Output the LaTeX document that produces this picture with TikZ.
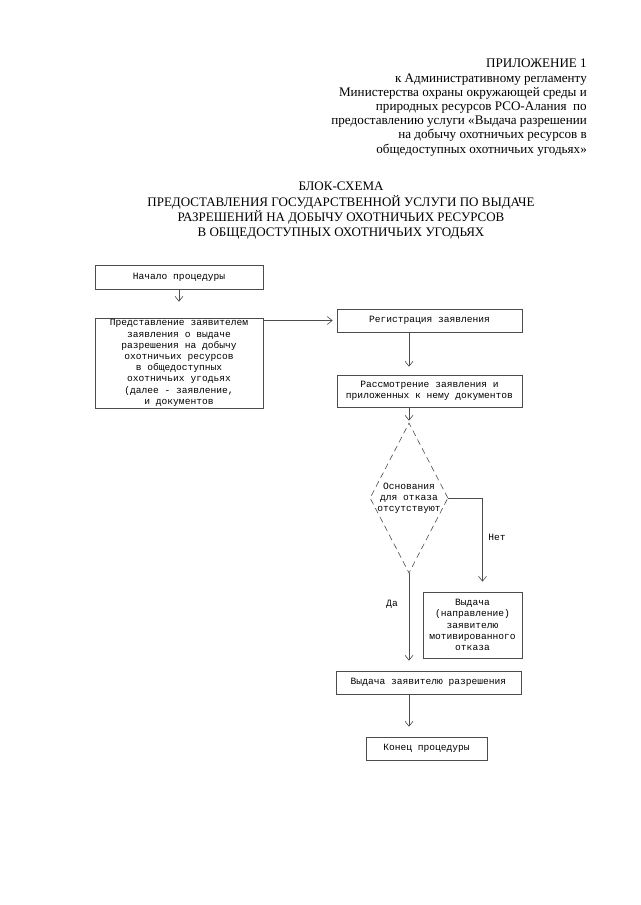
\documentclass[tikz,border=0pt]{standalone}
\usepackage{fontspec}
\setmainfont{Liberation Serif}
\setmonofont{Liberation Mono}
\usetikzlibrary{shapes.geometric,arrows.meta}

\begin{document}
\begin{tikzpicture}[x=1pt,y=-1pt,>={Straight Barb[length=5pt,width=8pt]},
  box/.style={draw=black!70,line width=0.6pt,inner sep=0pt,align=center,
    font=\ttfamily\fontsize{9.6}{11.2}\selectfont},
  txt/.style={inner sep=0pt,align=center,font=\ttfamily\fontsize{9.6}{11.2}\selectfont},
  line/.style={draw=black!70,line width=0.6pt}]
  \useasboundingbox[fill=white] (0,0) rectangle (640,905);
  \node[anchor=north east,align=right,inner sep=0pt,font=\fontsize{13.1}{14.2}\selectfont] (head) at (587,59)
    {ПРИЛОЖЕНИЕ 1\\к Административному регламенту\\Министерства охраны окружающей среды и\\
     природных ресурсов РСО-Алания~~по\\предоставлению услуги «Выдача разрешении\\
     на добычу охотничьих ресурсов в\\общедоступных охотничьих угодьях»};
  \node[anchor=north,align=center,inner sep=0pt,font=\fontsize{13}{15.3}\selectfont] (title) at (341,182)
    {БЛОК-СХЕМА\\ПРЕДОСТАВЛЕНИЯ ГОСУДАРСТВЕННОЙ УСЛУГИ ПО ВЫДАЧЕ\\
     РАЗРЕШЕНИЙ НА ДОБЫЧУ ОХОТНИЧЬИХ РЕСУРСОВ\\В ОБЩЕДОСТУПНЫХ ОХОТНИЧЬИХ УГОДЬЯХ};
  \foreach \n/\x/\y/\w/\h/\t in {start/179/277/168/24/{Начало процедуры},
    appl/179/363/168/90/{Представление заявителем\\заявления о выдаче\\разрешения на добычу\\охотничьих ресурсов\\в общедоступных\\охотничьих угодьях\\(далее - заявление,\\и документов},
    reg/429.5/320.5/185/23/{Регистрация заявления},
    rev/429.5/391/185/32/{Рассмотрение заявления и\\приложенных к нему документов},
    refuse/472.5/625/99/66/{Выдача\\(направление)\\заявителю\\мотивированного\\отказа},
    issue/428.5/682.5/185/23/{Выдача заявителю разрешения},
    finish/426.5/748.5/121/23/{Конец процедуры}}
  {
    \node[box,minimum width=\w,minimum height=\h] (\n) at (\x,\y) {\t};
  }
  \node[shape=diamond,draw=black!70,line width=0.6pt,dash pattern=on 6pt off 4pt,
    minimum width=78,minimum height=150,inner sep=0pt] (dec) at (409,498) {};
  \node[txt] (dectext) at (dec) {Основания\\для отказа\\отсутствуют};
  \node[txt] (no) at (497,537) {Нет};
  \node[txt] (yes) at (392,604) {Да};
  \draw[line,->,shorten >=16pt] (start) -- (appl);
  \draw[line,->,shorten >=4pt] (appl.east |- reg) -- (reg);
  \draw[line,->,shorten >=8pt] (reg.south -| dec) -- (rev.north -| dec);
  \draw[line,->,shorten >=2pt] (rev.south -| dec) -- (dec.north);
  \draw[line,->,shorten >=10pt] (dec.east) -| ([xshift=10pt]refuse.north);
  \draw[line,->,shorten >=10pt] (dec.south) -- (issue.north -| dec);
  \draw[line,->,shorten >=10pt] (issue.south -| dec) -- (finish.north -| dec);
\end{tikzpicture}
\end{document}
